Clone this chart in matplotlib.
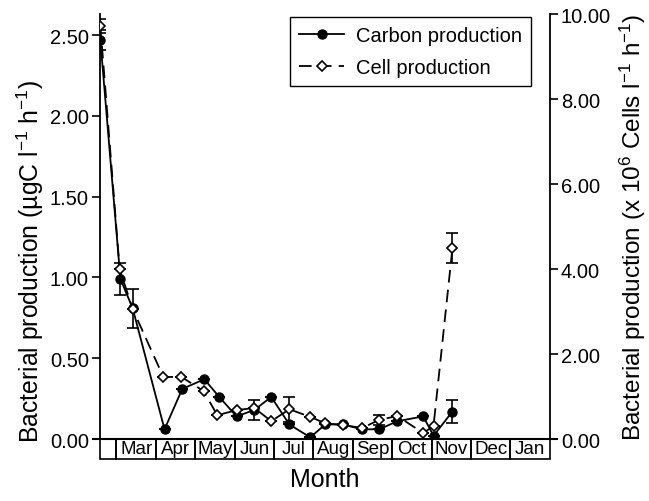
import numpy as np
import matplotlib.pyplot as plt
from matplotlib.lines import Line2D
from matplotlib.patches import Rectangle
import matplotlib.transforms as mtransforms

plt.rcParams['font.family'] = ['Liberation Sans', 'DejaVu Sans']
plt.rcParams['mathtext.default'] = 'regular'

# months since 1 March
carbon_x = [-0.41, 0.10, 0.41, 1.22, 1.67, 2.23, 2.61, 3.05, 3.50, 3.93,
            4.39, 4.92, 5.30, 5.74, 6.24, 6.67, 7.13, 7.79, 8.05, 8.53]
carbon_y = [2.47, 0.99, 0.81, 0.06, 0.31, 0.37, 0.26, 0.14, 0.18, 0.26,
            0.09, 0.01, 0.09, 0.09, 0.06, 0.06, 0.11, 0.14, 0.02, 0.17]
carbon_err = [0.06, 0.10, 0.12, 0, 0, 0, 0, 0, 0.06, 0,
              0, 0, 0, 0, 0, 0, 0, 0, 0, 0.07]

cell_x = [-0.41, 0.08, 0.41, 1.19, 1.65, 2.21, 2.56, 3.05, 3.50, 3.93,
          4.39, 4.92, 5.30, 5.74, 6.24, 6.67, 7.13, 7.79, 8.05, 8.53]
cell_y = [9.72, 4.00, 3.06, 1.46, 1.46, 1.13, 0.56, 0.68, 0.73, 0.42,
          0.70, 0.52, 0.37, 0.33, 0.26, 0.45, 0.54, 0.14, 0.31, 4.49]
cell_err = [0.17, 0, 0, 0, 0, 0, 0, 0, 0, 0,
            0.30, 0, 0, 0, 0, 0.11, 0, 0, 0, 0.35]

month_names = ['', 'Mar', 'Apr', 'May', 'Jun', 'Jul', 'Aug', 'Sep', 'Oct',
               'Nov', 'Dec', 'Jan']
month_edges = [-0.43, 0, 1, 2, 3, 4, 5, 6, 7, 8, 9, 10, 11]

fig = plt.figure(figsize=(6.49, 5.02), dpi=100)
ax = fig.add_axes([0.154, 0.1235, 0.693, 0.8465])
ax2 = ax.twinx()

# carbon production (left axis)
ax.errorbar(carbon_x, carbon_y, yerr=carbon_err, color='black', lw=1.3,
            marker='o', ms=6.5, mfc='black', mec='black',
            capsize=4, elinewidth=1.2, capthick=1.2, zorder=3)
# cell production (right axis)
ax2.errorbar(cell_x, cell_y, yerr=cell_err, color='black', lw=1.3,
             ls=(0, (7, 4)), marker='D', ms=5, mfc='white', mec='black',
             mew=1.2, capsize=4, elinewidth=1.2, capthick=1.2, zorder=3)

ax.set_xlim(-0.42, 11.0)
ax.set_ylim(0, 2.63)
ax2.set_ylim(0, 10)

ax.set_yticks(np.arange(0, 2.51, 0.5))
ax.set_yticklabels(['%.2f' % v for v in np.arange(0, 2.51, 0.5)])
ax2.set_yticks(np.arange(0, 10.1, 2))
ax2.set_yticklabels(['%.2f' % v for v in np.arange(0, 10.1, 2)])

for a in (ax, ax2):
    a.set_xticks([])
    a.spines['top'].set_visible(False)
    a.spines['bottom'].set_visible(False)
    a.tick_params(axis='y', direction='out', length=6, width=1.2,
                  labelsize=14.5, pad=2)
ax.spines['left'].set_linewidth(1.3)
ax2.spines['right'].set_linewidth(1.3)
ax.spines['right'].set_visible(False)
ax2.spines['left'].set_visible(False)

ax.set_ylabel('Bacterial production (µgC l$^{-1}$ h$^{-1}$)', fontsize=17.8)
ax.yaxis.set_label_coords(-0.12, 0.42)
ax2.set_ylabel('Bacterial production (x 10$^{6}$ Cells l$^{-1}$ h$^{-1}$)',
               fontsize=17.5, labelpad=5)

# month boxes under the axis
trans = mtransforms.blended_transform_factory(ax.transData, ax.transAxes)
box_h = 0.047
for name, x0, x1 in zip(month_names, month_edges[:-1], month_edges[1:]):
    ax.add_patch(Rectangle((x0, -box_h), x1 - x0, box_h, transform=trans,
                           fill=False, ec='black', lw=1.2, clip_on=False))
    ax.text((x0 + x1) / 2, -box_h / 2, name, transform=trans, ha='center',
            va='center', fontsize=13.5)
ax.add_line(Line2D([-0.016, 1.016], [0, 0], transform=ax.transAxes,
                   color='black', lw=1.5, clip_on=False))
ax.set_xlabel('Month', fontsize=18, labelpad=20)

handles = [Line2D([], [], color='black', lw=1.3, marker='o', ms=6.5),
           Line2D([], [], color='black', lw=1.3, ls=(0, (7, 4)), marker='D',
                  ms=5, mfc='white', mew=1.2)]
leg = ax.legend(handles, ['Carbon production', 'Cell production'],
                loc='upper right', bbox_to_anchor=(0.958, 0.993),
                fontsize=14.5, frameon=True, fancybox=False,
                edgecolor='black', framealpha=1, handlelength=2.2,
                borderpad=0.45, handletextpad=0.6, labelspacing=0.65,
                borderaxespad=0)
leg.get_frame().set_linewidth(1.0)
leg.set_zorder(5)

fig.savefig('out.png', dpi=100)
